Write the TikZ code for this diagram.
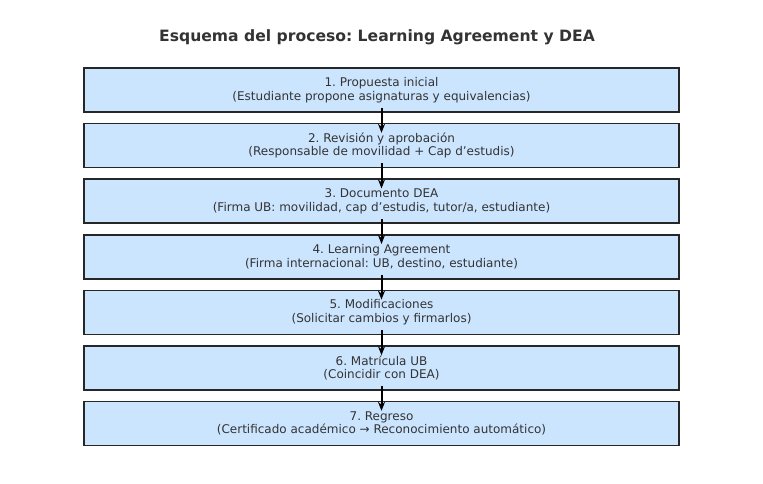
\documentclass[tikz,border=0pt]{standalone}
\usepackage{fontspec}
\setmainfont{DejaVu Sans}
\usetikzlibrary{arrows.meta}
\definecolor{boxfill}{HTML}{CCE5FF}
\definecolor{txt}{HTML}{333333}
\frenchspacing
\tikzset{
  stepbox/.style={draw=black!85, line width=1.5pt, fill=boxfill, minimum width=595pt, minimum height=44pt, inner sep=0pt, align=center, font=\fontsize{12}{13.5}\selectfont, text=txt},
  flow/.style={-{Stealth[length=9pt,width=7pt]}, line width=2pt, black}
}
\begin{document}
\begin{tikzpicture}[x=1pt,y=-1pt]
\useasboundingbox (0,0) rectangle (763,483);
\node[font=\bfseries\fontsize{15.6}{18}\selectfont, text=txt] (title) at (377,37) {Esquema del proceso: Learning Agreement y DEA};
\node[stepbox] (b1) at (381.5,90) {1. Propuesta inicial\\(Estudiante propone asignaturas y equivalencias)};
\node[stepbox] (b2) at (381.5,145.6) {2. Revisión y aprobación\\(Responsable de movilidad + Cap d’estudis)};
\node[stepbox] (b3) at (381.5,201.2) {3. Documento DEA\\(Firma UB: movilidad, cap d’estudis, tutor/a, estudiante)};
\node[stepbox] (b4) at (381.5,256.8) {4. Learning Agreement\\(Firma internacional: UB, destino, estudiante)};
\node[stepbox] (b5) at (381.5,312.4) {5. Modificaciones\\(Solicitar cambios y firmarlos)};
\node[stepbox] (b6) at (381.5,368) {6. Matrícula UB\\(Coincidir con DEA)};
\node[stepbox] (b7) at (381.5,423.6) {7. Regreso\\(Certificado académico → Reconocimiento automático)};
\foreach \a/\b in {b1/b2,b2/b3,b3/b4,b4/b5,b5/b6,b6/b7}
  \draw[flow] ([yshift=5pt]\a.south) -- ([yshift=-10pt]\b.north);
\end{tikzpicture}
\end{document}
